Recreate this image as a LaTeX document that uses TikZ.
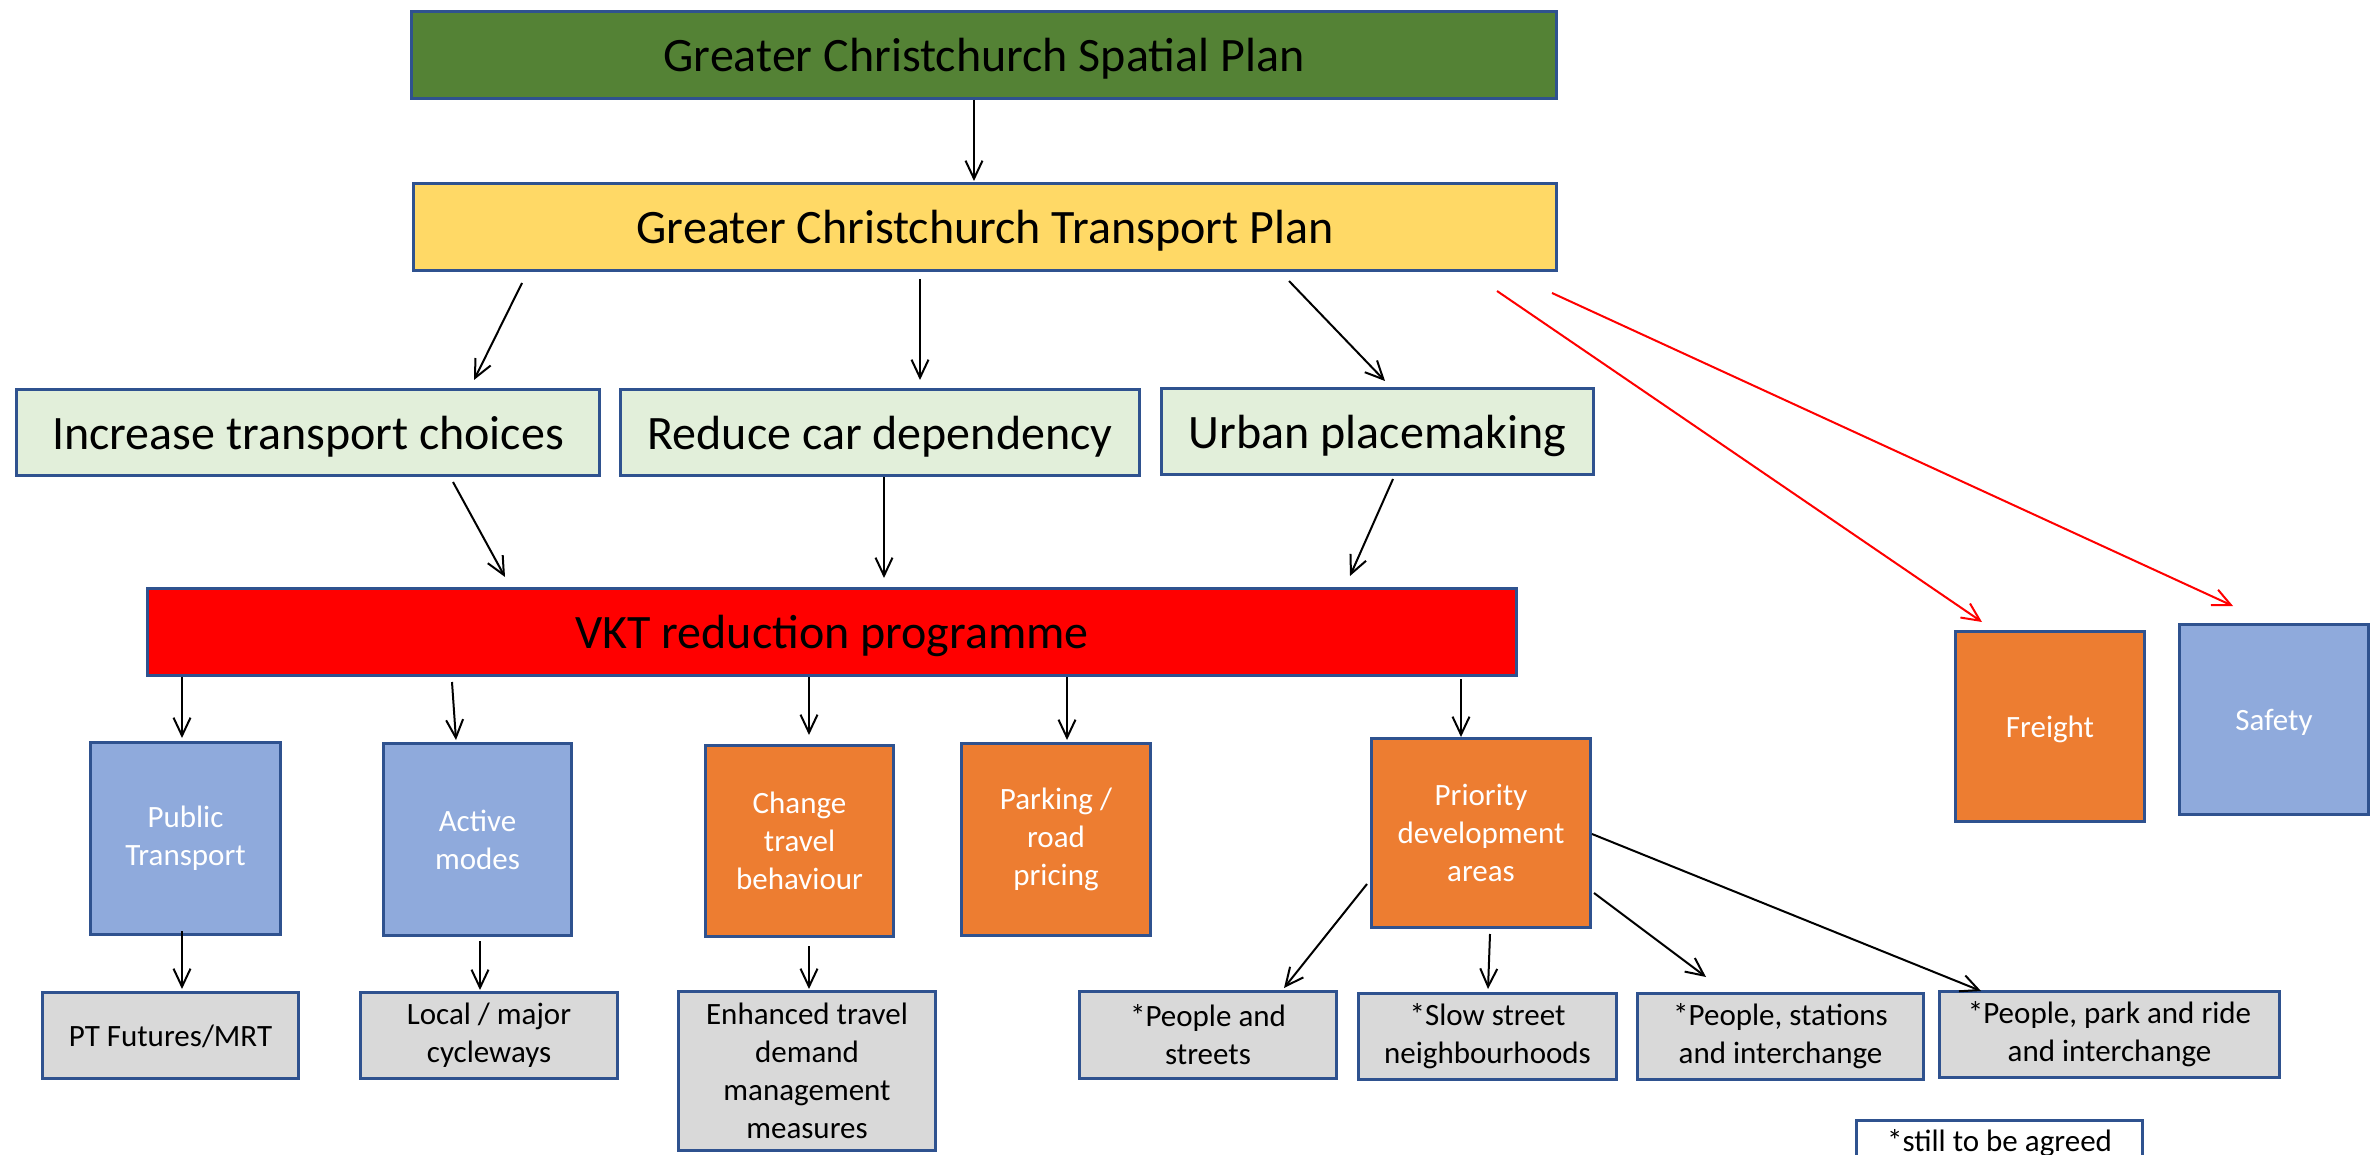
\documentclass[tikz,border=0pt]{standalone}
\usepackage{fontspec}
\setmainfont{Carlito}
\usetikzlibrary{arrows.meta}
\definecolor{bordc}{HTML}{2F528F}
\definecolor{plangreen}{HTML}{548235}
\definecolor{planyellow}{HTML}{FFD966}
\definecolor{paleg}{HTML}{E2EFDA}
\definecolor{vktred}{HTML}{FF0000}
\definecolor{softblue}{HTML}{8FAADC}
\definecolor{orng}{HTML}{ED7D31}
\definecolor{lgray}{HTML}{D9D9D9}
\tikzset{
  box/.style={draw=bordc, line width=3pt, align=center, inner sep=0pt,
    font=\fontsize{31}{38}\selectfont},
  bigbox/.style={box, text depth=0pt, font=\fontsize{48}{58}\selectfont},
  oneline/.style={text depth=0pt},
  whitetext/.style={text=white},
  arr/.style={line width=2pt, -{Straight Barb[length=18pt,width=17pt]}},
  redarr/.style={arr, draw=red},
}
\begin{document}
\begin{tikzpicture}[x=1pt,y=-1pt]
\useasboundingbox (0,0) rectangle (2377,1155);
\clip (0,0) rectangle (2377,1155);

% top level plans
\node[bigbox, fill=plangreen, minimum width=1145, minimum height=87] (sp) at (984,55) {Greater Christchurch Spatial Plan};
\node[bigbox, fill=planyellow, minimum width=1143, minimum height=87] (tp) at (985,227) {Greater Christchurch Transport Plan};

% objectives
\node[bigbox, fill=paleg, minimum width=583, minimum height=86] (inc) at (308,432.5) {Increase transport choices};
\node[bigbox, fill=paleg, minimum width=519, minimum height=86] (red) at (880,432.5) {Reduce car dependency};
\node[bigbox, fill=paleg, minimum width=432, minimum height=86] (urb) at (1377.5,431.5) {Urban placemaking};

% programme
\node[bigbox, fill=vktred, minimum width=1369, minimum height=87] (vkt) at (832,632) {VKT reduction programme};

% programme streams
\node[box, whitetext, fill=softblue, minimum width=190, minimum height=192] (pt) at (185.5,838.5) {Public\\Transport};
\node[box, whitetext, fill=softblue, minimum width=188, minimum height=192] (act) at (477.5,839.5) {Active\\modes};
\node[box, whitetext, fill=orng, minimum width=188, minimum height=191] (chg) at (799.5,841) {Change\\travel\\behaviour};
\node[box, whitetext, fill=orng, minimum width=189, minimum height=192] (prk) at (1056,839.5) {Parking /\\road\\pricing};
\node[box, whitetext, fill=orng, minimum width=219, minimum height=189] (pda) at (1481,833) {Priority\\development\\areas};
\node[box, whitetext, oneline, fill=orng, minimum width=189, minimum height=190] (frt) at (2050,726.5) {Freight};
\node[box, whitetext, oneline, fill=softblue, minimum width=189, minimum height=190] (saf) at (2274,719.5) {Safety};

% projects
\node[box, oneline, fill=lgray, minimum width=256, minimum height=86] (ptf) at (170.5,1035.5) {PT Futures/MRT};
\node[box, fill=lgray, minimum width=257, minimum height=86] (loc) at (489,1035.5) {Local / major\\cycleways};
\node[box, fill=lgray, minimum width=257, minimum height=159] (enh) at (807,1071) {Enhanced travel\\demand\\management\\measures};
\node[box, fill=lgray, minimum width=257, minimum height=87] (pas) at (1208,1035) {*People and\\streets};
\node[box, fill=lgray, minimum width=258, minimum height=86] (sls) at (1487.5,1036.5) {*Slow street\\neighbourhoods};
\node[box, fill=lgray, minimum width=286, minimum height=86] (psi) at (1780.5,1036.5) {*People, stations\\and interchange};
\node[box, fill=lgray, minimum width=340, minimum height=86] (ppr) at (2109.5,1034.5) {*People, park and ride\\and interchange};

% footnote
\node[box, fill=white, anchor=north, minimum width=286, minimum height=80, inner ysep=8pt, text depth=40pt] (note) at (1999.5,1119) {*still to be agreed};

% connectors
\draw[arr] ([shift={(-10,0)}]sp.south) -- ([shift={(-11,-1)}]tp.north);
\draw[arr] ([shift={(-463,11)}]tp.south) -- ([shift={(166,-8)}]inc.north);
\draw[arr] ([shift={(-65,7)}]tp.south) -- ([shift={(40,-8)}]red.north);
\draw[arr] ([shift={(304,9)}]tp.south) -- ([shift={(7.5,-6)}]urb.north);
\draw[redarr] ([shift={(512,19)}]tp.south) -- ([shift={(-68,-8)}]frt.north);
\draw[redarr] ([shift={(567,21)}]tp.south) -- ([shift={(-41,-17)}]saf.north);

\draw[arr] ([shift={(145,5)}]inc.south) -- ([shift={(-327,-10)}]vkt.north);
\draw[arr] ([shift={(4,0)}]red.south) -- ([shift={(52,-9)}]vkt.north);
\draw[arr] ([shift={(15.5,3)}]urb.south) -- ([shift={(518,-11)}]vkt.north);

\draw[arr] ([shift={(-650,0)}]vkt.south) -- ([shift={(-3.5,-3)}]pt.north);
\draw[arr] ([shift={(-380,5)}]vkt.south) -- ([shift={(-21.5,-2)}]act.north);
\draw[arr] ([shift={(-23,0)}]vkt.south) -- ([shift={(9.5,-9)}]chg.north);
\draw[arr] ([shift={(235,0)}]vkt.south) -- ([shift={(11,-2)}]prk.north);
\draw[arr] ([shift={(629,2)}]vkt.south) -- ([shift={(-20,0)}]pda.north);

\draw[arr] ([shift={(-3.5,-5)}]pt.south) -- ([shift={(11.5,-2)}]ptf.north);
\draw[arr] ([shift={(2.5,4)}]act.south) -- ([shift={(-9,-1)}]loc.north);
\draw[arr] ([shift={(9.5,8)}]chg.south) -- ([shift={(2,-1)}]enh.north);

\draw[arr] ([shift={(-3,51)}]pda.west) -- ([shift={(76,-2)}]pas.north);
\draw[arr] ([shift={(9,5)}]pda.south) -- ([shift={(0.5,-3)}]sls.north);
\draw[arr] ([shift={(2,60)}]pda.east) -- ([shift={(-74.5,-15)}]psi.north);
\draw[arr] ([shift={(0,1)}]pda.east) -- ([shift={(-128.5,1)}]ppr.north);
\end{tikzpicture}
\end{document}
